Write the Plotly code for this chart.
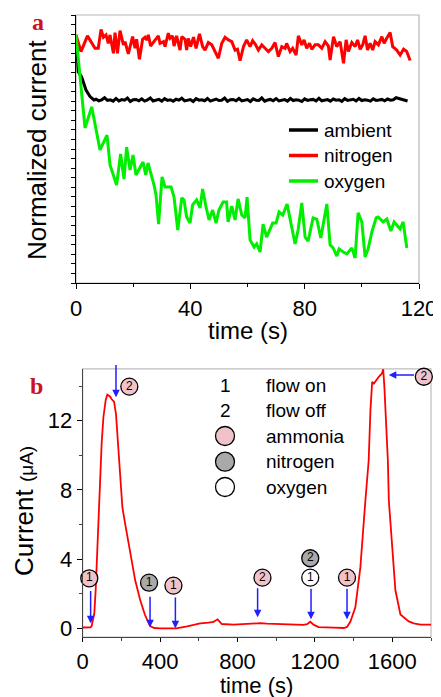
import plotly.graph_objects as go

# ---------------- Panel a data (time in s, normalized current) ----------------
ambient_head_t = [0, 0.8, 2, 3.5, 4.9, 6.3]
ambient_head_v = [0.996, 0.804, 0.775, 0.708, 0.674, 0.656]
ambient_tail_v = [
    0.660, 0.652, 0.657, 0.668, 0.654, 0.657, 0.650, 0.664, 0.651, 0.658,
    0.655, 0.666, 0.648, 0.657, 0.659, 0.652, 0.662, 0.650, 0.656, 0.667,
    0.651, 0.655, 0.659, 0.650, 0.663, 0.654, 0.657, 0.649, 0.660, 0.655,
    0.665, 0.651, 0.656, 0.658, 0.648, 0.663, 0.655, 0.657, 0.652, 0.664,
    0.650, 0.656, 0.661, 0.653, 0.655, 0.666, 0.649, 0.657, 0.659, 0.652,
    0.664, 0.651, 0.656, 0.658, 0.648, 0.662, 0.655, 0.654, 0.667, 0.650,
    0.656, 0.659, 0.652, 0.663, 0.651, 0.656, 0.658, 0.650, 0.664, 0.653,
    0.657, 0.655, 0.648, 0.662, 0.654, 0.657, 0.659, 0.651, 0.665, 0.652,
    0.656, 0.658, 0.650, 0.661, 0.655, 0.657, 0.649, 0.663, 0.654, 0.656,
    0.660, 0.651, 0.664, 0.653, 0.657, 0.655, 0.650, 0.662, 0.654, 0.656,
    0.659, 0.652, 0.661, 0.655, 0.657, 0.668, 0.663, 0.657, 0.653, 0.651,
]
ambient_t = ambient_head_t + list(range(7, 7 + len(ambient_tail_v)))
ambient_v = ambient_head_v + ambient_tail_v

nitrogen_t = [
    0, 1.75, 4.0, 6.65, 7.8, 8.75, 9.6, 10.5, 11.3, 11.9, 13.1, 13.65, 14.5, 15.4,
    16.6, 17.15, 18.3, 19.1, 19.8, 20.65, 21.2, 22.2, 23.3, 24.15, 24.7, 25.3, 26.1,
    26.8, 28, 28.8, 29.4, 30.6, 31.15, 32.3, 32.9, 33.8, 34.3, 35.2, 36.4, 37, 38.15,
    38.7, 39.3, 40.1, 41.1, 42, 43.2, 44.3, 45.15, 46.3, 47.5, 48.65, 49.8, 51, 52.15,
    53.3, 54.5, 55.65, 56.5, 57.4, 58.6, 59.7, 60.9, 61.8, 62.65, 63.8, 65, 66.15,
    67.3, 68.5, 69.65, 70.8, 72, 73.15, 73.7, 74.9, 75.8, 77, 77.8, 79, 79.8, 80.7,
    81.7, 82.5, 83.65, 84.8, 86, 87.15, 88.3, 88.9, 90.1, 91.2, 92.4, 93.6, 94.5,
    95.3, 96.5, 97.65, 98.5, 99.4, 100.3, 101.15, 102, 102.9, 103.8, 104.65, 105.8,
    107, 107.8, 108.7, 109.9, 110.8, 112.2, 113.4, 114.6, 115.7, 116.9,
]
nitrogen_v = [
    0.996, 0.909, 0.991, 0.926, 0.926, 1.025, 0.984, 0.996, 0.952, 0.996, 0.900, 1.008,
    0.900, 1.018, 0.944, 0.961, 0.897, 0.952, 0.987, 0.926, 0.973, 0.869, 0.973, 0.984,
    0.970, 0.996, 0.938, 0.952, 0.973, 0.991, 0.952, 0.961, 0.935, 1.005, 0.978, 0.991,
    0.938, 0.991, 0.917, 0.987, 0.973, 0.917, 0.978, 0.935, 0.984, 0.926, 1.001, 0.935,
    0.917, 0.956, 0.944, 0.909, 0.874, 0.952, 0.984, 0.970, 0.961, 0.917, 0.921, 0.862,
    0.935, 0.970, 0.935, 0.966, 0.949, 0.917, 0.944, 0.926, 0.909, 0.926, 0.956, 0.883,
    0.935, 0.926, 0.952, 0.909, 0.926, 0.891, 0.991, 0.944, 0.970, 0.926, 0.952, 0.921,
    0.944, 0.944, 0.926, 0.961, 0.938, 0.865, 0.987, 0.935, 0.961, 0.848, 0.970, 0.909,
    0.956, 0.935, 0.970, 0.921, 0.944, 0.991, 0.917, 0.952, 0.917, 0.961, 0.944, 0.987,
    0.952, 0.978, 1.008, 0.935, 0.917, 0.891, 0.921, 0.909, 0.862,
]

oxygen_t = [
    0, 3.15, 5.5, 8.4, 10.85, 11.9, 14.2, 15.6, 16.8, 17.7, 18.9, 19.95, 21, 23.45,
    24.4, 25.2, 27.3, 28, 28.9, 30.1, 31.15, 33.25, 34.3, 35.6, 37, 37.8, 38.7, 39.9,
    40.8, 42.2, 43.4, 44.3, 45.5, 46.55, 47.8, 49, 50, 51.45, 52.7, 53.2, 54.5, 55.65,
    56.7, 58, 59.15, 59.85, 60.9, 62.3, 63.2, 64.4, 65.45, 66.7, 68.8, 70, 71.05, 72.35,
    73.85, 75.5, 76.65, 77.7, 79, 80.15, 81.2, 82.95, 84.25, 85.65, 87.75, 88.9, 89.95,
    91.25, 92.05, 93.45, 94.75, 96.5, 97.65, 98.7, 100, 101.15, 102.2, 103.5, 105,
    105.7, 107.45, 108.75, 110.15, 111.3, 113.4, 114.45, 115.75,
]
oxygen_v = [
    0.996, 0.510, 0.620, 0.395, 0.473, 0.317, 0.212, 0.374, 0.243, 0.410, 0.290, 0.369,
    0.264, 0.332, 0.264, 0.327, 0.212, 0.160, 0.008, 0.254, 0.202, 0.202, 0.149, -0.023,
    0.144, 0.134, 0.045, 0.013, 0.108, 0.134, 0.092, 0.191, 0.097, 0.029, 0.081, 0.013,
    0.081, 0.123, 0.123, 0.019, 0.102, 0.029, 0.139, 0.055, 0.040, 0.149, -0.075, -0.112,
    -0.096, -0.138, 0.008, -0.060, 0.013, 0.013, 0.071, 0.055, 0.113, -0.023, -0.096,
    -0.023, 0.118, -0.060, -0.081, 0.040, 0.034, -0.065, 0.113, -0.101, -0.117, -0.159,
    -0.122, -0.138, -0.148, -0.117, -0.169, 0.066, 0.019, -0.164, -0.122, -0.034, 0.040,
    0.045, 0.019, 0.034, -0.028, 0.019, -0.018, 0.019, -0.117,
]

series_a_names = ["ambient", "nitrogen", "oxygen"]
series_a_colors = ["#000000", "#FF0000", "#00EE00"]

# ---------------- Panel b data (time in s, current in uA) ----------------
b_t = [0, 20, 40, 46, 52, 60, 67, 72, 79, 86, 89.5, 98, 107, 119, 127, 141, 150, 162,
       172, 179, 190, 197, 205, 219, 245, 271, 297, 322, 348, 370, 400, 483, 540, 607,
       650, 676, 697, 719, 780, 850, 918, 952, 1038, 1090, 1140, 1160, 1176, 1195, 1219,
       1297, 1349, 1366, 1383, 1409, 1435, 1461, 1478, 1487, 1496, 1505, 1513, 1530,
       1547, 1553, 1559, 1570, 1577, 1582, 1599, 1616, 1642, 1685, 1711, 1746, 1800]
b_i = [0.05, 0.05, 0.06, 0.12, 0.4, 0.87, 2.2, 3.6, 5.5, 7.4, 8.57, 10.7, 12.2, 13.2,
       13.5, 13.4, 13.24, 13.1, 12.4, 11.3, 9.7, 8.0, 7.0, 6.07, 4.33, 2.79, 1.64, 0.77,
       0.13, 0.02, 0.0, 0.0, 0.12, 0.29, 0.33, 0.38, 0.52, 0.25, 0.21, 0.25, 0.30, 0.27,
       0.22, 0.21, 0.2, 0.24, 0.38, 0.2, 0.07, 0.04, 0.02, 0.08, 0.38, 1.21, 3.52, 7.4,
       9.7, 12.6, 14.25, 14.15, 14.3, 14.54, 14.74, 14.97, 13.97, 11.65, 9.73, 7.4, 4.5,
       2.2, 0.8, 0.4, 0.29, 0.22, 0.21]

# event markers: (time, level, label, gas)
ev_t = [34, 241, 343, 469, 929, 1176, 1176, 1366, 1763]
ev_i = [2.89, 13.97, 2.64, 2.47, 2.93, 2.93, 4.05, 2.93, 14.54]
ev_label = ["1", "2", "1", "1", "2", "1", "2", "1", "2"]
ev_gas = ["ammonia", "ammonia", "nitrogen", "ammonia", "ammonia", "oxygen",
          "nitrogen", "ammonia", "ammonia"]
gas_colors = {"ammonia": "#F2C2CA", "nitrogen": "#A9A9A9", "oxygen": "#FFFFFF"}

# arrows: (head time, head level, tail time, tail level)
arr_head_t = [41, 172, 348, 479, 904, 1180, 1366, 1582]
arr_head_i = [0.29, 13.35, 0.06, 0.0, 0.64, 0.52, 0.52, 14.64]
arr_tail_t = [41, 172, 348, 479, 904, 1180, 1366, 1720]
arr_tail_i = [2.25, 15.3, 1.92, 1.87, 2.4, 2.37, 2.37, 14.64]

legend_b_keys = ["1", "2"]
legend_b_key_text = ["flow on", "flow off"]
legend_b_gases = ["ammonia", "nitrogen", "oxygen"]

FONT = "Arial, Liberation Sans, sans-serif"

# page has an 8 px body margin: size the figure so that it fills the window exactly
W, H = 441, 697
OFF = 8
FW, FH = W - OFF, H - OFF


def px(x):
    return (x - OFF) / FW


def py(y):
    return 1 - (y - OFF) / FH


fig = go.Figure()

for t, v, c in zip([ambient_t, nitrogen_t, oxygen_t],
                   [ambient_v, nitrogen_v, oxygen_v], series_a_colors):
    fig.add_trace(go.Scatter(x=t, y=v, mode="lines", line=dict(color=c, width=3),
                             xaxis="x", yaxis="y", showlegend=False, hoverinfo="skip"))

fig.add_trace(go.Scatter(x=b_t, y=b_i, mode="lines", line=dict(color="#FF0000", width=1.8),
                         xaxis="x2", yaxis="y2", showlegend=False, hoverinfo="skip"))

fig.add_trace(go.Scatter(
    x=ev_t, y=ev_i, mode="markers+text", text=ev_label, textposition="middle center",
    textfont=dict(family=FONT, size=12, color="#000000"),
    marker=dict(size=17, color=[gas_colors[g] for g in ev_gas],
                line=dict(color="#000000", width=1.3)),
    xaxis="x2", yaxis="y2", showlegend=False, hoverinfo="skip", cliponaxis=False))

# domains (pixel based, reference coordinates)
ax_a = [px(76), px(419)]
ay_a = [py(283), py(15)]
ax_b = [px(82.7), px(431)]
ay_b = [py(637), py(368.8)]

common_tick = dict(ticks="outside", tickcolor="#000000", tickwidth=1.2, showgrid=False,
                   zeroline=False, showline=True, linewidth=1.3, automargin=False,
                   tickfont=dict(family=FONT, size=22, color="#000000"))

fig.update_layout(
    template="none",
    width=FW, height=FH, margin=dict(l=0, r=0, t=0, b=0, autoexpand=False),
    paper_bgcolor="white", plot_bgcolor="white", showlegend=False,
    xaxis=dict(domain=ax_a, anchor="y", range=[0, 120], tick0=0, dtick=40, ticklen=5,
               linecolor="#000000",
               minor=dict(dtick=20, ticks="outside", ticklen=3, tickcolor="#000000"),
               **common_tick),
    yaxis=dict(domain=ay_a, anchor="x", range=[-0.3, 1.1], tick0=-0.3, dtick=0.05,
               ticklen=4, showticklabels=False, linecolor="#000000", **common_tick),
    xaxis2=dict(domain=ax_b, anchor="y2", range=[0, 1800], tick0=0, dtick=400, ticklen=4,
                linecolor="#444444",
                minor=dict(dtick=200, ticks="outside", ticklen=3, tickcolor="#444444"),
                **common_tick),
    yaxis2=dict(domain=ay_b, anchor="x2", range=[-0.5, 15], tick0=0, dtick=4, ticklen=5,
                linecolor="#444444",
                minor=dict(dtick=2, ticks="outside", ticklen=3, tickcolor="#444444"),
                **common_tick),
)

shapes = []
# grey frames
shapes.append(dict(type="rect", xref="x domain", yref="y domain", x0=0, x1=1, y0=0, y1=1,
                   line=dict(color="#B8B8B8", width=1.2), layer="below"))
shapes.append(dict(type="rect", xref="x2 domain", yref="y2 domain", x0=0, x1=1, y0=0, y1=1,
                   line=dict(color="#BDBDBD", width=1.2), layer="below"))

annotations = []
# legend panel a
leg_a_y = [130, 155.5, 181]
for name, col, yy in zip(series_a_names, series_a_colors, leg_a_y):
    shapes.append(dict(type="line", xref="paper", yref="paper", x0=px(289), x1=px(318),
                       y0=py(yy), y1=py(yy), line=dict(color=col, width=3.5)))
    annotations.append(dict(xref="paper", yref="paper", x=px(322), y=py(yy), text=name,
                            showarrow=False, xanchor="left", yanchor="middle",
                            font=dict(family=FONT, size=19, color="#000000")))

# legend panel b
leg_b_y = [385, 410, 436, 461.7, 487]
for k, (key, txt) in enumerate(zip(legend_b_keys, legend_b_key_text)):
    annotations.append(dict(xref="paper", yref="paper", x=px(225), y=py(leg_b_y[k]),
                            text=key, showarrow=False, xanchor="center", yanchor="middle",
                            font=dict(family=FONT, size=19, color="#000000")))
    annotations.append(dict(xref="paper", yref="paper", x=px(264), y=py(leg_b_y[k]),
                            text=txt, showarrow=False, xanchor="left", yanchor="middle",
                            font=dict(family=FONT, size=19, color="#000000")))
for k, gas in enumerate(legend_b_gases):
    yy = py(leg_b_y[k + 2])
    shapes.append(dict(type="circle", xref="paper", yref="paper", xsizemode="pixel",
                       ysizemode="pixel", xanchor=px(225), yanchor=yy, x0=-9.5, x1=9.5,
                       y0=-9.5, y1=9.5, fillcolor=gas_colors[gas],
                       line=dict(color="#000000", width=1.3)))
    annotations.append(dict(xref="paper", yref="paper", x=px(264), y=yy, text=gas,
                            showarrow=False, xanchor="left", yanchor="middle",
                            font=dict(family=FONT, size=19, color="#000000")))

# arrows panel b
for ht, hi, tt, ti in zip(arr_head_t, arr_head_i, arr_tail_t, arr_tail_i):
    annotations.append(dict(xref="x2", yref="y2", x=ht, y=hi, axref="x2", ayref="y2",
                            ax=tt, ay=ti, text="", showarrow=True, arrowhead=2,
                            arrowsize=1, arrowwidth=1.5, arrowcolor="#1F1FFF"))

# axis titles
annotations.append(dict(xref="paper", yref="paper", x=(ax_a[0] + ax_a[1]) / 2, y=py(330),
                        text="time (s)", showarrow=False, xanchor="center", yanchor="middle",
                        font=dict(family=FONT, size=24, color="#000000")))
annotations.append(dict(xref="paper", yref="paper", x=(ax_b[0] + ax_b[1]) / 2, y=py(685),
                        text="time (s)", showarrow=False, xanchor="center", yanchor="middle",
                        font=dict(family=FONT, size=22, color="#000000")))
annotations.append(dict(xref="paper", yref="paper", x=px(37), y=py(150),
                        text="Normalized current", textangle=-90, showarrow=False,
                        xanchor="center", yanchor="middle",
                        font=dict(family=FONT, size=26, color="#000000")))
annotations.append(dict(xref="paper", yref="paper", x=px(24), y=py(511),
                        text="Current <span style='font-size:19px'>(\u03bcA)</span>",
                        textangle=-90, showarrow=False, xanchor="center", yanchor="middle",
                        font=dict(family=FONT, size=26, color="#000000")))
# panel letters
annotations.append(dict(xref="paper", yref="paper", x=px(37.5), y=py(22), text="<b>a</b>",
                        showarrow=False, xanchor="center", yanchor="middle",
                        font=dict(family="Liberation Serif, Times New Roman, serif", size=24,
                                  color="#C8141E")))
annotations.append(dict(xref="paper", yref="paper", x=px(36.7), y=py(386), text="<b>b</b>",
                        showarrow=False, xanchor="center", yanchor="middle",
                        font=dict(family="Liberation Serif, Times New Roman, serif", size=24,
                                  color="#C8141E")))

fig.update_layout(shapes=shapes, annotations=annotations)
fig.write_html("out.html")
